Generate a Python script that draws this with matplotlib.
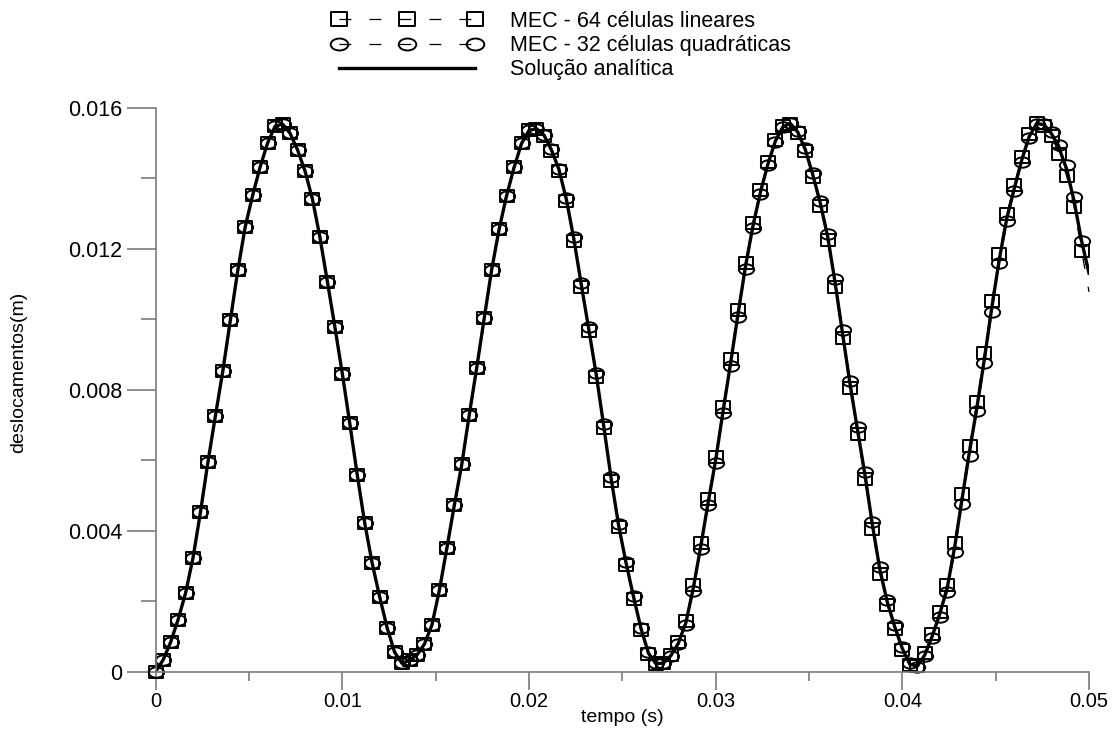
#### Deslocamentos - MEC x solução analítica

import numpy as np
import matplotlib
import matplotlib.pyplot as plt
from matplotlib.path import Path
from matplotlib.transforms import Affine2D

matplotlib.use('Agg')
plt.rcParams['font.family'] = ['Liberation Sans', 'DejaVu Sans']

# Dados (um ponto a cada 0.0004 s)
dt = 0.0004

# - Solução analítica
analitica = [
    0.00000, 0.00033, 0.00083, 0.00147, 0.00222, 0.00322, 0.00452, 0.00594, 0.00725, 0.00853,
    0.00996, 0.01138, 0.01262, 0.01352, 0.01432, 0.01500, 0.01547, 0.01553, 0.01527, 0.01480,
    0.01420, 0.01340, 0.01232, 0.01106, 0.00978, 0.00845, 0.00704, 0.00558, 0.00421, 0.00307,
    0.00212, 0.00124, 0.00055, 0.00023, 0.00032, 0.00047, 0.00078, 0.00132, 0.00231, 0.00350,
    0.00472, 0.00588, 0.00728, 0.00862, 0.01002, 0.01140, 0.01255, 0.01350, 0.01430, 0.01498,
    0.01535, 0.01540, 0.01522, 0.01480, 0.01425, 0.01340, 0.01228, 0.01098, 0.00972, 0.00843,
    0.00698, 0.00548, 0.00415, 0.00308, 0.00212, 0.00122, 0.00052, 0.00022, 0.00024, 0.00045,
    0.00080, 0.00138, 0.00236, 0.00355, 0.00480, 0.00600, 0.00740, 0.00875, 0.01015, 0.01150,
    0.01265, 0.01360, 0.01440, 0.01505, 0.01545, 0.01555, 0.01530, 0.01481, 0.01410, 0.01330,
    0.01234, 0.01103, 0.00958, 0.00815, 0.00685, 0.00557, 0.00415, 0.00288, 0.00196, 0.00126,
    0.00065, 0.00021, 0.00015, 0.00047, 0.00100, 0.00163, 0.00236, 0.00352, 0.00490, 0.00625,
    0.00751, 0.00888, 0.01035, 0.01171, 0.01287, 0.01371, 0.01452, 0.01518, 0.01555, 0.01551,
    0.01525, 0.01485, 0.01425, 0.01335, 0.01222, 0.01130,
]

# - MEC - 64 células lineares
lineares = [
    0.00000, 0.00033, 0.00083, 0.00147, 0.00222, 0.00322, 0.00452, 0.00594, 0.00725, 0.00853,
    0.00996, 0.01138, 0.01262, 0.01352, 0.01432, 0.01500, 0.01547, 0.01553, 0.01527, 0.01480,
    0.01420, 0.01340, 0.01232, 0.01106, 0.00978, 0.00845, 0.00704, 0.00558, 0.00421, 0.00307,
    0.00212, 0.00124, 0.00055, 0.00023, 0.00032, 0.00047, 0.00078, 0.00132, 0.00231, 0.00350,
    0.00472, 0.00588, 0.00728, 0.00862, 0.01002, 0.01140, 0.01255, 0.01350, 0.01430, 0.01498,
    0.01535, 0.01540, 0.01520, 0.01478, 0.01421, 0.01335, 0.01222, 0.01092, 0.00966, 0.00836,
    0.00691, 0.00541, 0.00409, 0.00303, 0.00207, 0.00118, 0.00050, 0.00021, 0.00025, 0.00047,
    0.00084, 0.00144, 0.00245, 0.00365, 0.00490, 0.00610, 0.00751, 0.00886, 0.01026, 0.01160,
    0.01273, 0.01367, 0.01446, 0.01509, 0.01547, 0.01554, 0.01527, 0.01476, 0.01403, 0.01322,
    0.01224, 0.01091, 0.00945, 0.00803, 0.00673, 0.00545, 0.00403, 0.00278, 0.00189, 0.00120,
    0.00060, 0.00019, 0.00016, 0.00052, 0.00106, 0.00170, 0.00246, 0.00366, 0.00505, 0.00639,
    0.00766, 0.00904, 0.01051, 0.01185, 0.01298, 0.01380, 0.01460, 0.01524, 0.01557, 0.01549,
    0.01518, 0.01468, 0.01406, 0.01319, 0.01194, 0.01077,
]

# - MEC - 32 células quadráticas
quadraticas = [
    0.00000, 0.00033, 0.00083, 0.00147, 0.00222, 0.00322, 0.00452, 0.00594, 0.00725, 0.00853,
    0.00996, 0.01138, 0.01262, 0.01352, 0.01432, 0.01500, 0.01547, 0.01553, 0.01527, 0.01480,
    0.01420, 0.01340, 0.01232, 0.01106, 0.00978, 0.00845, 0.00704, 0.00558, 0.00421, 0.00307,
    0.00212, 0.00124, 0.00055, 0.00023, 0.00032, 0.00047, 0.00078, 0.00132, 0.00231, 0.00350,
    0.00472, 0.00588, 0.00728, 0.00862, 0.01002, 0.01140, 0.01255, 0.01350, 0.01430, 0.01498,
    0.01535, 0.01540, 0.01523, 0.01481, 0.01427, 0.01343, 0.01232, 0.01102, 0.00976, 0.00847,
    0.00702, 0.00552, 0.00419, 0.00311, 0.00215, 0.00124, 0.00054, 0.00023, 0.00023, 0.00043,
    0.00077, 0.00133, 0.00229, 0.00348, 0.00473, 0.00592, 0.00732, 0.00867, 0.01007, 0.01142,
    0.01259, 0.01355, 0.01436, 0.01502, 0.01544, 0.01556, 0.01533, 0.01485, 0.01415, 0.01336,
    0.01242, 0.01113, 0.00968, 0.00825, 0.00694, 0.00566, 0.00424, 0.00296, 0.00202, 0.00131,
    0.00069, 0.00023, 0.00014, 0.00043, 0.00094, 0.00156, 0.00226, 0.00339, 0.00476, 0.00612,
    0.00738, 0.00874, 0.01021, 0.01158, 0.01277, 0.01363, 0.01445, 0.01513, 0.01553, 0.01553,
    0.01530, 0.01495, 0.01437, 0.01345, 0.01222, 0.01115,
]

tempo = dt * np.arange(len(analitica))

x_ticks = [0, 0.01, 0.02, 0.03, 0.04, 0.05]
x_ticklabels = ['0', '0.01', '0.02', '0.03', '0.04', '0.05']
y_ticks = [0, 0.004, 0.008, 0.012, 0.016]
y_ticklabels = ['0', '0.004', '0.008', '0.012', '0.016']

# - Marcadores: quadrado e elipse (um pouco achatados)
quadrado = Path([(-1, -0.85), (1, -0.85), (1, 0.85), (-1, 0.85), (-1, -0.85)],
                [Path.MOVETO, Path.LINETO, Path.LINETO, Path.LINETO, Path.CLOSEPOLY])
elipse = Path.unit_circle().transformed(Affine2D().scale(1, 0.68))

# Figura
fig = plt.figure(figsize=(11.19, 7.36), dpi=100)
ax = fig.add_axes([0.1391, 0.0876, 0.8341, 0.7663])

n_marc = len(analitica) - 1  # sem marcador no último ponto
tracejado = (0, (9.5, 14.5))

l_lin, = ax.plot(tempo, lineares, color='black', lw=0.9, linestyle=tracejado,
                 marker=quadrado, ms=10.5, mfc='none', mec='black', mew=1.4,
                 markevery=slice(0, n_marc), clip_on=False,
                 label='MEC - 64 células lineares')
l_quad, = ax.plot(tempo, quadraticas, color='black', lw=0.9, linestyle=tracejado,
                  marker=elipse, ms=11, mfc='none', mec='black', mew=1.4,
                  markevery=slice(0, n_marc), clip_on=False,
                  label='MEC - 32 células quadráticas')
l_ana, = ax.plot(tempo, analitica, color='black', lw=2.4, solid_joinstyle='round',
                 label='Solução analítica')

# - Eixos
ax.set_xlim(0, 0.05)
ax.set_ylim(0, 0.016)
ax.set_xticks(x_ticks)
ax.set_xticklabels(x_ticklabels)
ax.set_yticks(y_ticks)
ax.set_yticklabels(y_ticklabels)
ax.set_xticks([0.005, 0.015, 0.025, 0.035, 0.045], minor=True)
ax.set_yticks([0.002, 0.006, 0.010, 0.014], minor=True)

for s in ['top', 'right']:
    ax.spines[s].set_visible(False)
for s in ['left', 'bottom']:
    ax.spines[s].set_color('#7a7a7a')
    ax.spines[s].set_linewidth(1.2)

ax.tick_params(axis='x', which='major', length=13, width=1.2, color='#7a7a7a',
               labelsize=14.5, pad=2)
ax.tick_params(axis='x', which='minor', length=6.5, width=1.2, color='#7a7a7a')
ax.tick_params(axis='y', which='major', length=21, width=1.2, color='#7a7a7a',
               labelsize=15.5, pad=3)
ax.tick_params(axis='y', which='minor', length=11, width=1.2, color='#7a7a7a')

# - Rótulos
fig.text(622 / 1119, 1 - 717 / 736, 'tempo (s)', ha='center', va='center', fontsize=14)
fig.text(19 / 1119, 1 - 372 / 736, 'deslocamentos(m)', ha='center', va='center',
         rotation=90, fontsize=14)

# - Legenda
fig.legend([l_lin, l_quad, l_ana],
           ['MEC - 64 células lineares', 'MEC - 32 células quadráticas', 'Solução analítica'],
           loc='upper left', bbox_to_anchor=(333 / 1119, 1 - 11 / 736), frameon=False,
           numpoints=3, handlelength=6.9, handletextpad=1.3, labelspacing=0.15,
           markerscale=1.15, borderpad=0, borderaxespad=0, fontsize=15.5)

fig.savefig('out.png', dpi=100)
